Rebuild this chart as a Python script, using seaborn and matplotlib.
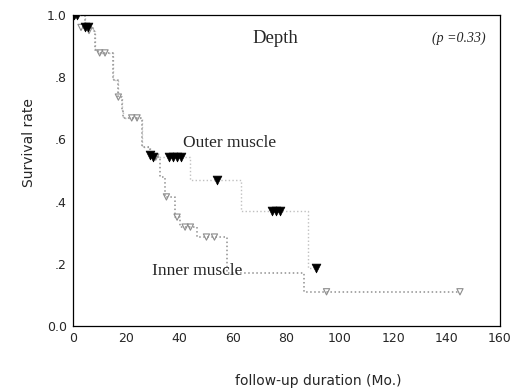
import numpy as np
import pandas as pd
import matplotlib
matplotlib.use("Agg")
import matplotlib.pyplot as plt
import seaborn as sns

# Kaplan-Meier step data
inner_time = [0, 4.5, 7.5, 8.2, 9.4, 15, 16.9, 18.4, 18.7, 25.9, 28.9, 30, 32.6, 34.5, 38.2, 40, 46.5, 57.7, 86.5, 145]
inner_surv = [1.0, 0.96, 0.95, 0.887, 0.878, 0.79, 0.736, 0.695, 0.669, 0.575, 0.55, 0.543, 0.479, 0.415, 0.35, 0.318, 0.286, 0.17, 0.11, 0.11]

outer_time = [0, 4.5, 7.5, 8.2, 9.4, 15, 16.9, 18.4, 18.7, 25.9, 28.9, 44, 63, 88, 92]
outer_surv = [1.0, 0.96, 0.95, 0.887, 0.878, 0.79, 0.736, 0.695, 0.669, 0.575, 0.545, 0.47, 0.37, 0.185, 0.185]

# censored observations
inner_cens_time = [1, 2, 3, 5, 6, 10, 12, 17, 22, 24, 31, 35, 39, 42, 44, 50, 53, 95, 145]
inner_cens_surv = [1.0, 1.0, 0.96, 0.96, 0.95, 0.878, 0.878, 0.736, 0.669, 0.669, 0.543, 0.415, 0.35, 0.318, 0.318, 0.286, 0.286, 0.11, 0.11]

outer_cens_time = [0.5, 1.5, 4.5, 5.5, 29, 30, 36, 37.5, 39, 40.5, 54, 74.5, 76, 77.5, 91]
outer_cens_surv = [1.0, 1.0, 0.96, 0.96, 0.55, 0.545, 0.545, 0.545, 0.545, 0.545, 0.47, 0.37, 0.37, 0.37, 0.185]

x_ticks = [0, 20, 40, 60, 80, 100, 120, 140, 160]
y_ticks = [0.0, 0.2, 0.4, 0.6, 0.8, 1.0]
y_tick_labels = ["0.0", ".2", ".4", ".6", ".8", "1.0"]

sns.set_theme(style="white")
plt.rcParams['font.family'] = ['DejaVu Sans']

fig = plt.figure(figsize=(5.18, 3.90), dpi=100)
ax = fig.add_axes([73/518, 1 - 326/390, (500 - 73)/518, (326 - 15)/390])

inner_df = pd.DataFrame({"t": inner_time, "s": inner_surv})
outer_df = pd.DataFrame({"t": outer_time, "s": outer_surv})

sns.lineplot(data=outer_df, x="t", y="s", ax=ax, drawstyle="steps-post",
             color="#c0c0c0", linestyle=":", linewidth=1.0, estimator=None, sort=False)
sns.lineplot(data=inner_df, x="t", y="s", ax=ax, drawstyle="steps-post",
             color="#909090", linestyle=":", linewidth=1.1, estimator=None, sort=False)

sns.scatterplot(x=inner_cens_time, y=inner_cens_surv, ax=ax, marker="v", s=20,
                facecolor="none", edgecolor="#8c8c8c", linewidth=0.8, zorder=3)
sns.scatterplot(x=outer_cens_time, y=outer_cens_surv, ax=ax, marker="v", s=40,
                color="black", edgecolor="black", linewidth=0.5, zorder=4)

ax.set_xlim(0, 160)
ax.set_ylim(0, 1.0)
ax.set_xticks(x_ticks)
ax.set_xticklabels([str(v) for v in x_ticks], fontsize=9)
ax.set_yticks(y_ticks)
ax.set_yticklabels(y_tick_labels, fontsize=9)
ax.tick_params(axis="both", direction="out", length=2.5, width=0.8, color="black", pad=2)
for sp in ax.spines.values():
    sp.set_color("black")
    sp.set_linewidth(0.9)

ax.set_xlabel("follow-up duration (Mo.)", fontsize=10)
ax.set_ylabel("Survival rate", fontsize=10)
ax.xaxis.set_label_coords(0.574, -0.155)
ax.yaxis.set_label_coords(-0.087, 0.59)

serif = ["Liberation Serif", "DejaVu Serif"]
ax.text(76, 0.926, "Depth", fontsize=13.5, family=serif, ha="center", va="center")
ax.text(154.5, 0.925, "(p =0.33)", fontsize=10, family=serif, style="italic", ha="right", va="center")
ax.text(58.5, 0.59, "Outer muscle", fontsize=12.5, family=serif, ha="center", va="center")
ax.text(46.6, 0.177, "Inner muscle", fontsize=12.5, family=serif, ha="center", va="center")

fig.savefig("out.png", dpi=100)
